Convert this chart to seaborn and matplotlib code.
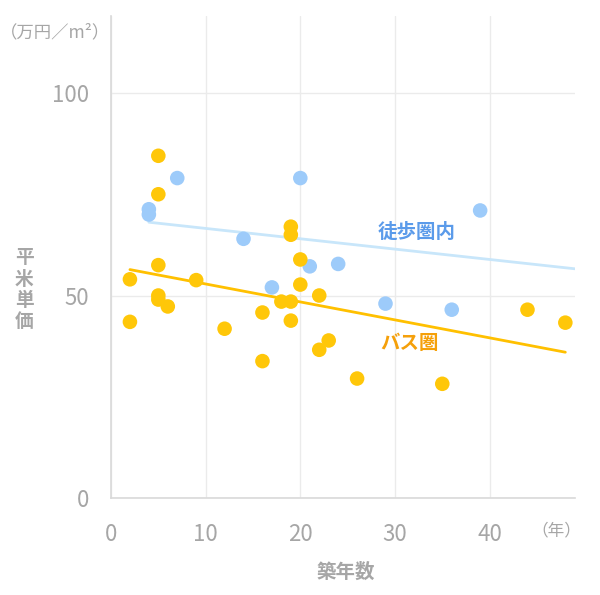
import numpy as np
import pandas as pd
import matplotlib
matplotlib.use("Agg")
import matplotlib.pyplot as plt
import seaborn as sns

# --- data ---
walk_age = [4, 4, 7, 14, 17, 20, 21, 24, 29, 36, 39]
walk_price = [71.3, 70.0, 79.0, 64.0, 52.0, 79.0, 57.2, 57.8, 48.0, 46.5, 71.0]
bus_age = [2, 2, 5, 5, 5, 5, 5, 6, 9, 12, 16, 16, 18, 19, 19, 19, 19, 20, 20,
           22, 22, 23, 26, 35, 44, 48]
bus_price = [54.0, 43.5, 84.5, 75.0, 57.5, 50.0, 49.0, 47.3, 53.8, 41.8, 45.8,
             33.8, 48.5, 67.0, 65.0, 48.5, 43.8, 58.9, 52.7, 50.0, 36.6, 38.9,
             29.5, 28.2, 46.5, 43.3]
# trend lines
walk_trend_age = [4, 49]
walk_trend_price = [68.1, 56.6]
bus_trend_age = [2, 48]
bus_trend_price = [56.4, 36.0]
x_ticks = [0, 10, 20, 30, 40]
y_ticks = [0, 50, 100]
series_names = ["徒歩圏内", "バス圏"]

df = pd.concat([
    pd.DataFrame({"age": walk_age, "price": walk_price, "zone": series_names[0]}),
    pd.DataFrame({"age": bus_age, "price": bus_price, "zone": series_names[1]}),
])

sns.set_style("white")
plt.rcParams["font.family"] = ["Noto Sans CJK JP", "DejaVu Sans"]

gray = "#A6A6A6"
c_walk = "#9DCBFA"
c_bus = "#FFC709"
c_walk_line = "#C8E6FA"
c_bus_line = "#FFC000"

fig = plt.figure(figsize=(6.0, 5.95), dpi=100)
ax = fig.add_axes([0.185, 0.163, 0.773, 0.810])

sns.lineplot(x=walk_trend_age, y=walk_trend_price, color=c_walk_line, lw=2,
             ax=ax, zorder=2)
sns.lineplot(x=bus_trend_age, y=bus_trend_price, color=c_bus_line, lw=2,
             ax=ax, zorder=2)

sns.scatterplot(data=df, x="age", y="price", hue="zone",
                palette={series_names[0]: c_walk, series_names[1]: c_bus},
                s=110, edgecolor="none", legend=False, ax=ax, zorder=3)

ax.set_xlim(0, 49)
ax.set_ylim(0, 119)
ax.set_xticks(x_ticks)
ax.set_yticks(y_ticks)
ax.grid(True, color="#EBEBEB", lw=1)
ax.set_axisbelow(True)
for s in ["top", "right"]:
    ax.spines[s].set_visible(False)
for s in ["left", "bottom"]:
    ax.spines[s].set_color("#D9D9D9")
    ax.spines[s].set_linewidth(1.2)
ax.tick_params(length=0, labelsize=16, labelcolor=gray)
ax.tick_params(axis="x", pad=18)
ax.tick_params(axis="y", pad=16)
ax.set_xlabel("")
ax.set_ylabel("")

fig.text(0.04, 0.513, "平\n米\n単\n価", ha="center", va="center", fontsize=13.5,
         fontweight="bold", color=gray, linespacing=1.15)
fig.text(0.577, 0.039, "築年数", ha="center", va="center", fontsize=14,
         fontweight="bold", color=gray)
fig.text(0.092, 0.946, "（万円／m²）", ha="center", va="center", fontsize=12.5,
         color=gray)
fig.text(0.928, 0.107, "（年）", ha="center", va="center", fontsize=12,
         color=gray)

ax.text(32.3, 65.5, series_names[0], ha="center", va="center", fontsize=14,
        fontweight="bold", color="#5B9BEA")
ax.text(31.5, 38.2, series_names[1], ha="center", va="center", fontsize=14,
        fontweight="bold", color="#F5A00A")

fig.savefig("out.png", dpi=100)
